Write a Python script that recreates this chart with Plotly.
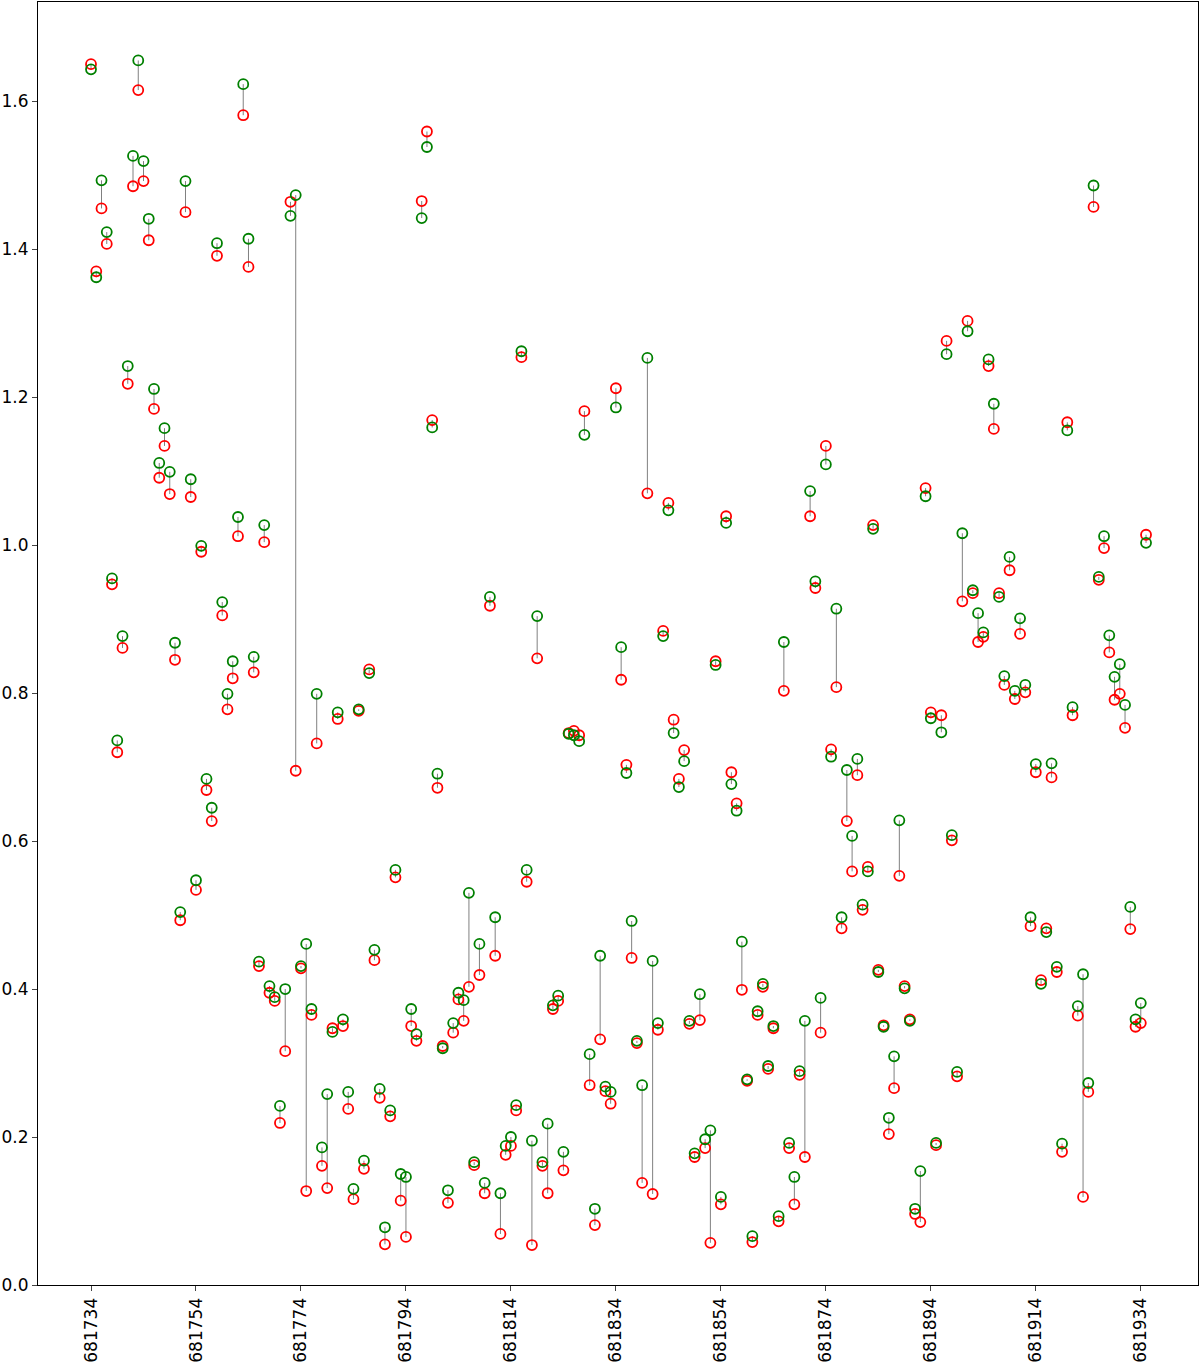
import plotly.graph_objects as go

start_id = 681734
red = [1.650, 1.370, 1.455, 1.407, .947, .720, .861, 1.218, 1.485, 1.615,
       1.492, 1.412, 1.184, 1.091, 1.134, 1.069, .845, .493, 1.450, 1.065,
       .534, .991, .669, .627, 1.391, .905, .778, .820, 1.012, 1.581,
       1.376, .828, .431, 1.004, .395, .384, .219, .316, 1.464, .695,
       .428, .127, .365, .732, .161, .131, .347, .765, .350, .238,
       .116, .776, .157, .832, .439, .253, .055, .228, .551, .114,
       .065, .350, .330, 1.465, 1.559, 1.169, .672, .323, .111, .341,
       .386, .357, .403, .162, .419, .124, .918, .445, .069, .176,
       .188, .236, 1.254, .545, .054, .847, .161, .124, .373, .384,
       .155, .746, .749, .743, 1.181, .270, .081, .332, .262, .245,
       1.212, .818, .703, .442, .327, .138, 1.070, .123, .345, .884,
       1.057, .764, .684, .723, .353, .173, .358, .185, .057, .843,
       .109, 1.039, .693, .651, .399, .276, .058, .365, .403, .292,
       .347, .086, .803, .185, .109, .284, .173, 1.039, .942, .341,
       1.134, .724, .808, .482, .627, .559, .689, .507, .565, 1.027,
       .426, .351, .204, .266, .553, .404, .359, .096, .085, 1.077,
       .774, .189, .770, 1.276, .601, .282, .924, 1.303, .935, .869,
       .876, 1.242, 1.157, .935, .811, .966, .792, .880, .801, .485,
       .693, .412, .482, .686, .423, .180, 1.166, .770, .364, .119,
       .261, 1.457, .953, .996, .855, .791, .799, .753, .481, .349,
       .354, 1.014]
green = [1.643, 1.362, 1.493, 1.423, .955, .736, .877, 1.242, 1.526, 1.655,
         1.519, 1.441, 1.211, 1.111, 1.158, 1.099, .868, .504, 1.492, 1.089,
         .547, .999, .684, .645, 1.408, .923, .799, .843, 1.038, 1.623,
         1.414, .849, .437, 1.027, .404, .389, .242, .400, 1.445, 1.473,
         .431, .461, .373, .799, .186, .258, .342, .774, .359, .261,
         .130, .778, .168, .827, .453, .265, .078, .236, .561, .150,
         .146, .373, .339, 1.442, 1.538, 1.159, .691, .320, .128, .354,
         .395, .385, .530, .166, .461, .138, .930, .497, .124, .188,
         .200, .243, 1.262, .561, .195, .904, .166, .218, .378, .391,
         .180, .745, .743, .735, 1.149, .312, .103, .445, .268, .261,
         1.186, .862, .692, .492, .330, .270, 1.253, .438, .354, .877,
         1.047, .746, .673, .708, .357, .178, .393, .197, .209, .838,
         .119, 1.030, .677, .641, .464, .278, .066, .370, .407, .296,
         .350, .093, .869, .192, .146, .289, .357, 1.073, .951, .388,
         1.109, .714, .914, .497, .696, .607, .711, .514, .559, 1.022,
         .423, .349, .226, .309, .628, .401, .357, .103, .154, 1.066,
         .766, .192, .747, 1.258, .608, .288, 1.016, 1.289, .939, .908,
         .882, 1.251, 1.191, .930, .823, .984, .803, .901, .811, .497,
         .704, .407, .477, .705, .430, .191, 1.155, .781, .377, .420,
         .273, 1.486, .957, 1.012, .878, .822, .839, .784, .511, .359,
         .381, 1.003]
ids = [start_id + i for i in range(len(red))]
tick_ids = list(range(681734, 681935, 20))

lx, ly = [], []
for x, r, g in zip(ids, red, green):
    lx += [x, x, None]
    ly += [r, g, None]

fig = go.Figure()
fig.add_trace(go.Scatter(x=lx, y=ly, mode="lines",
                         line=dict(color="grey", width=1), hoverinfo="skip"))
fig.add_trace(go.Scatter(x=ids, y=red, mode="markers",
                         marker=dict(symbol="circle-open", color="red", size=10,
                                     line=dict(width=1.8))))
fig.add_trace(go.Scatter(x=ids, y=green, mode="markers",
                         marker=dict(symbol="circle-open", color="green", size=10,
                                     line=dict(width=1.8))))

fig.update_layout(
    width=1200, height=1370, showlegend=False,
    plot_bgcolor="white", paper_bgcolor="white",
    margin=dict(l=38, r=2, t=2, b=85, autoexpand=False),
    font=dict(family="DejaVu Sans", size=17, color="black"),
)
fig.update_xaxes(range=[681723.9, 681944.9], tickvals=tick_ids,
                 ticktext=[str(t) for t in tick_ids], tickangle=-90,
                 showgrid=False, zeroline=False, showline=True, mirror=True,
                 linecolor="black", ticks="outside", ticklen=5, automargin=False)
fig.update_yaxes(range=[0, 1.734], dtick=0.2, tickformat=".1f",
                 showgrid=False, zeroline=False, showline=True, mirror=True,
                 linecolor="black", ticks="outside", ticklen=5, automargin=False)

# browser default body margin shifts the plot by 8px
fig.write_html("out.html", config={"displayModeBar": False},
               post_script="document.body.style.margin='0';")
